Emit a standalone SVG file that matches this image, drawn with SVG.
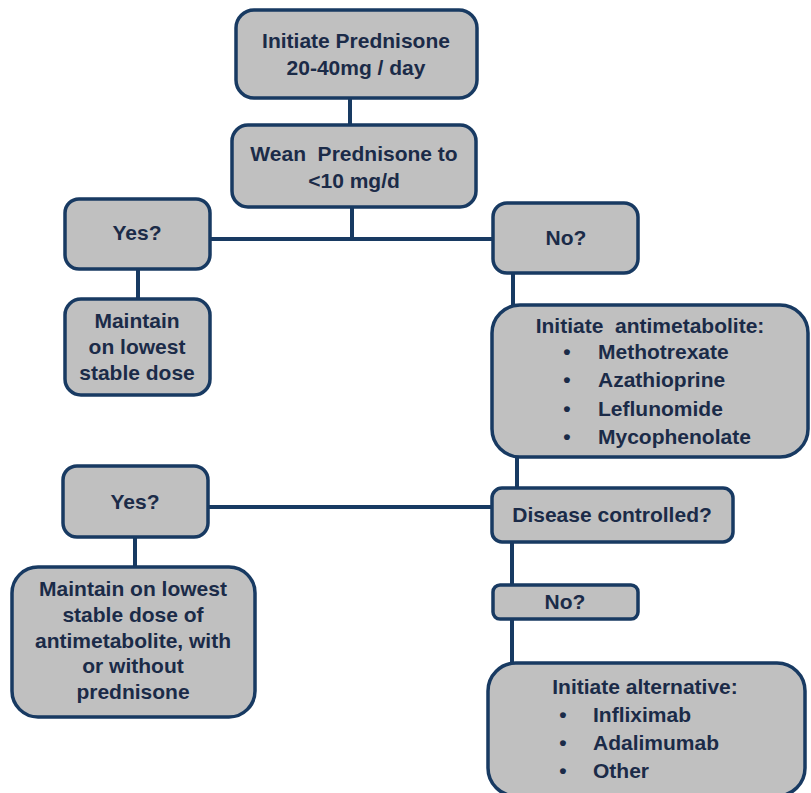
<svg xmlns="http://www.w3.org/2000/svg" width="811" height="793" viewBox="0 0 811 793">
<style>
.box{fill:#c0c0c0;stroke:#183a62;stroke-width:3.5}
.t{font-family:"Liberation Sans",Arial,sans-serif;font-weight:bold;font-size:21px;fill:#1b2b48;text-anchor:middle;white-space:pre}
.l{text-anchor:start}
.c{stroke:#183a62;stroke-width:4;fill:none}
</style>
<rect width="811" height="793" fill="#ffffff"/>
<g id="connectors">
<line class="c" x1="350" y1="98" x2="350" y2="125"/>
<line class="c" x1="352" y1="207" x2="352" y2="239"/>
<line class="c" x1="210" y1="239" x2="493" y2="239"/>
<line class="c" x1="138" y1="269" x2="138" y2="299"/>
<line class="c" x1="513" y1="273" x2="513" y2="305"/>
<line class="c" x1="517" y1="457" x2="517" y2="488"/>
<line class="c" x1="208" y1="507" x2="492" y2="507"/>
<line class="c" x1="135" y1="537" x2="135" y2="567"/>
<line class="c" x1="512" y1="542" x2="512" y2="585"/>
<line class="c" x1="512" y1="619" x2="512" y2="663"/>
</g>
<g id="n1">
<rect class="box" x="236" y="10" width="241" height="88" rx="18"/>
<text class="t" x="356" y="48">Initiate Prednisone</text>
<text class="t" x="356" y="75">20-40mg / day</text>
</g>
<g id="n2">
<rect class="box" x="232" y="125" width="244" height="82" rx="16"/>
<text class="t" x="354" y="161">Wean  Prednisone to</text>
<text class="t" x="354" y="188">&lt;10 mg/d</text>
</g>
<g id="n3">
<rect class="box" x="65" y="199" width="145" height="70" rx="14"/>
<text class="t" x="137" y="240">Yes?</text>
</g>
<g id="n4">
<rect class="box" x="65" y="299" width="145" height="96" rx="16"/>
<text class="t" x="137" y="328">Maintain</text>
<text class="t" x="137" y="354">on lowest</text>
<text class="t" x="137" y="380">stable dose</text>
</g>
<g id="n5">
<rect class="box" x="493" y="203" width="145" height="70" rx="14"/>
<text class="t" x="566" y="245">No?</text>
</g>
<g id="n6">
<rect class="box" x="492" y="305" width="316" height="152" rx="28"/>
<text class="t" x="650" y="333">Initiate  antimetabolite:</text>
<text class="t" x="567" y="359">•</text>
<text class="t l" x="598" y="359">Methotrexate</text>
<text class="t" x="567" y="387">•</text>
<text class="t l" x="598" y="387">Azathioprine</text>
<text class="t" x="567" y="416">•</text>
<text class="t l" x="598" y="416">Leflunomide</text>
<text class="t" x="567" y="444">•</text>
<text class="t l" x="598" y="444">Mycophenolate</text>
</g>
<g id="n7">
<rect class="box" x="63" y="466" width="145" height="71" rx="14"/>
<text class="t" x="135" y="509">Yes?</text>
</g>
<g id="n8">
<rect class="box" x="12" y="567" width="243" height="150" rx="26"/>
<text class="t" x="133" y="596">Maintain on lowest</text>
<text class="t" x="133" y="622">stable dose of</text>
<text class="t" x="133" y="648">antimetabolite, with</text>
<text class="t" x="133" y="673">or without</text>
<text class="t" x="133" y="699">prednisone</text>
</g>
<g id="n9">
<rect class="box" x="492" y="488" width="241" height="54" rx="10"/>
<text class="t" x="612" y="522">Disease controlled?</text>
</g>
<g id="n10">
<rect class="box" x="493" y="585" width="145" height="34" rx="7"/>
<text class="t" x="565" y="609">No?</text>
</g>
<g id="n11">
<rect class="box" x="488" y="663" width="317" height="133" rx="28"/>
<text class="t" x="645" y="694">Initiate alternative:</text>
<text class="t" x="563" y="722">•</text>
<text class="t l" x="593" y="722">Infliximab</text>
<text class="t" x="563" y="750">•</text>
<text class="t l" x="593" y="750">Adalimumab</text>
<text class="t" x="563" y="778">•</text>
<text class="t l" x="593" y="778">Other</text>
</g>
</svg>
